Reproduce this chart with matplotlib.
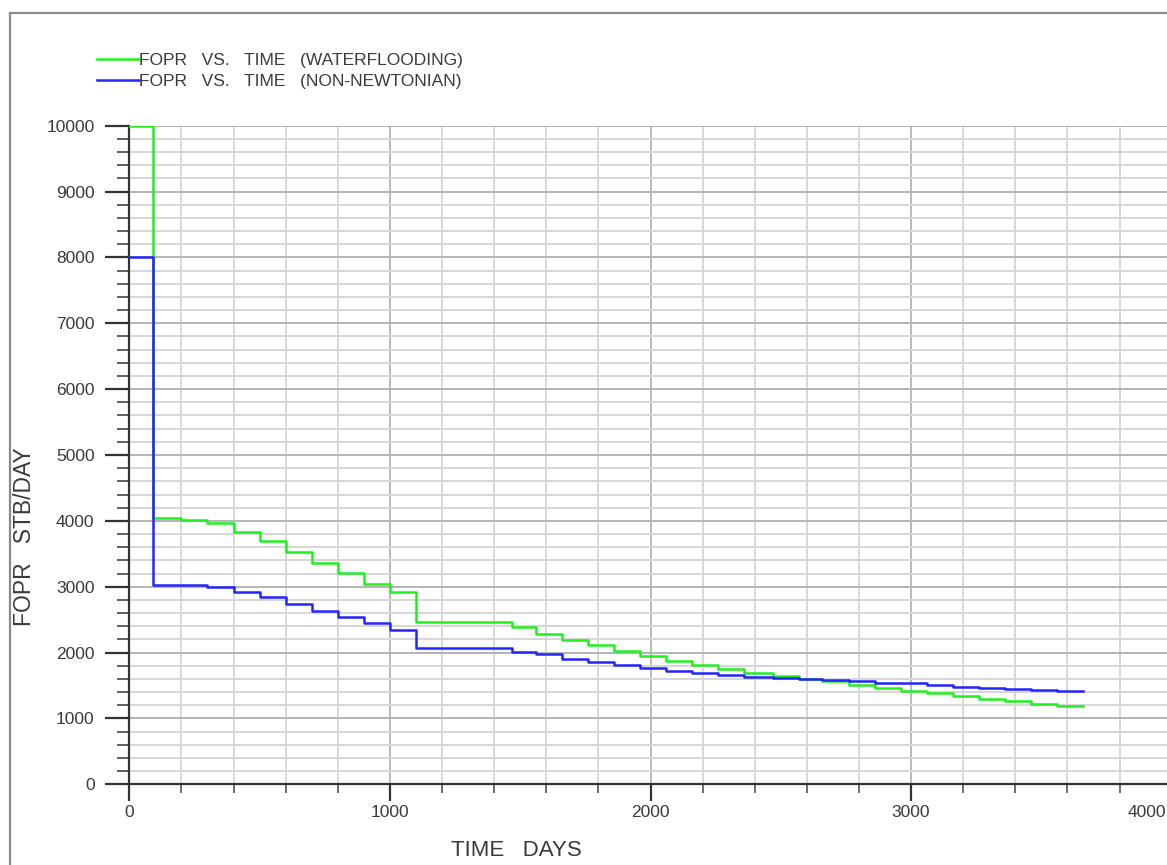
import matplotlib
matplotlib.use("Agg")
import matplotlib.pyplot as plt
from matplotlib.lines import Line2D
from matplotlib.ticker import MultipleLocator

# report times (days) -- each rate holds from one time to the next
t_report = [0, 92, 200, 300, 400, 500, 600, 700, 800, 900, 1000, 1100, 1470,
            1560, 1660, 1760, 1860, 1960, 2060, 2160, 2260, 2360, 2470, 2570,
            2660, 2760, 2860, 2960, 3060, 3160, 3260, 3360, 3460, 3560, 3660]

fopr_waterflood = [10000, 4050, 4013, 3972, 3836, 3690, 3523, 3365, 3204, 3041,
                   2920, 2462, 2390, 2285, 2191, 2110, 2029, 1948, 1877, 1807,
                   1746, 1685, 1644, 1599, 1573, 1510, 1462, 1421, 1382, 1341,
                   1300, 1260, 1219, 1194]

fopr_nonnewt = [8000, 3030, 3020, 2991, 2925, 2849, 2738, 2636, 2536, 2445,
                2343, 2068, 2015, 1976, 1907, 1852, 1807, 1771, 1725, 1685,
                1664, 1634, 1614, 1600, 1578, 1573, 1543, 1533, 1503, 1483,
                1462, 1442, 1438, 1421]

x_ticks = [0, 1000, 2000, 3000, 4000]
y_ticks = [0, 1000, 2000, 3000, 4000, 5000, 6000, 7000, 8000, 9000, 10000]

TXT = "#3a3a3a"
W, H = 1167, 865

plt.rcParams["font.family"] = ["Liberation Sans", "DejaVu Sans"]

fig = plt.figure(figsize=(W / 100, H / 100), dpi=100)
x0, x1 = 129.3, 1171.7
y0, y1 = 784.3, 125.7
ax = fig.add_axes([x0 / W, (H - y0) / H, (x1 - x0) / W, (y0 - y1) / H])

# grid: light every 200, a bit darker every 1000
for v in range(200, 4001, 200):
    ax.axvline(v, color="#b4b4b4" if v % 1000 == 0 else "#d6d6d6",
               lw=1.3, zorder=0)
for v in range(200, 10001, 200):
    ax.axhline(v, color="#b4b4b4" if v % 1000 == 0 else "#d6d6d6",
               lw=1.4, zorder=0)

ax.step(t_report, fopr_waterflood + fopr_waterflood[-1:], where="post",
        color="#22ee22", lw=1.8, zorder=3,
        label="FOPR   VS.   TIME   (WATERFLOODING)")
ax.step(t_report, fopr_nonnewt + fopr_nonnewt[-1:], where="post",
        color="#2424ff", lw=1.8, zorder=4,
        label="FOPR   VS.   TIME   (NON-NEWTONIAN)")

ax.set_xlim(0, 4000)
ax.set_ylim(0, 10000)
# the last x label would hang past the page edge, so it is placed by hand below
ax.set_xticks(x_ticks, [str(v) for v in x_ticks[:-1]] + [""])
ax.set_yticks(y_ticks)
ax.xaxis.set_minor_locator(MultipleLocator(200))
ax.yaxis.set_minor_locator(MultipleLocator(200))

for s in ("top", "right"):
    ax.spines[s].set_visible(False)
for s in ("left", "bottom"):
    ax.spines[s].set_color("#333333")
    ax.spines[s].set_linewidth(1.6)

ax.tick_params(axis="y", which="major", direction="out", length=17, width=1.6,
               color="#333333", pad=8, labelsize=12.5, labelcolor=TXT)
ax.tick_params(axis="y", which="minor", direction="out", length=8.5, width=1.2,
               color="#444444")
ax.tick_params(axis="x", which="major", direction="out", length=12, width=1.6,
               color="#333333", pad=3, labelsize=12.5, labelcolor=TXT)
ax.tick_params(axis="x", which="minor", direction="out", length=6.5, width=1.1,
               color="#444444")

ax.annotate(str(x_ticks[-1]), xy=(x_ticks[-1], 0),
            xycoords=("data", "axes fraction"), xytext=(-4, -15),
            textcoords="offset points", ha="right", va="top",
            fontsize=12.5, color=TXT, annotation_clip=False)

ax.set_xlabel("TIME   DAYS", fontsize=16, color=TXT)
ax.xaxis.set_label_coords((516.5 - x0) / (x1 - x0), (y0 - 840) / (y0 - y1))
ax.xaxis.label.set_va("top")
ax.set_ylabel("FOPR   STB/DAY", fontsize=16.5, color=TXT)
ax.yaxis.set_label_coords((36 - x0) / (x1 - x0), (y0 - 537) / (y0 - y1))

leg = ax.legend(loc="upper left", bbox_to_anchor=(97 / W, 1 - 53 / H),
                bbox_transform=fig.transFigure, frameon=False,
                fontsize=12.5, handlelength=2.4, handletextpad=0.0,
                labelspacing=0.33, borderpad=0, borderaxespad=0)
for t in leg.get_texts():
    t.set_color(TXT)

# page border
fig.add_artist(Line2D([10 / W, 1], [1 - 13 / H, 1 - 13 / H],
                      transform=fig.transFigure, color="#8a8a8a", lw=1.6))
fig.add_artist(Line2D([10 / W, 10 / W], [0, 1 - 13 / H],
                      transform=fig.transFigure, color="#8a8a8a", lw=1.6))

fig.savefig("out.png", dpi=100)
